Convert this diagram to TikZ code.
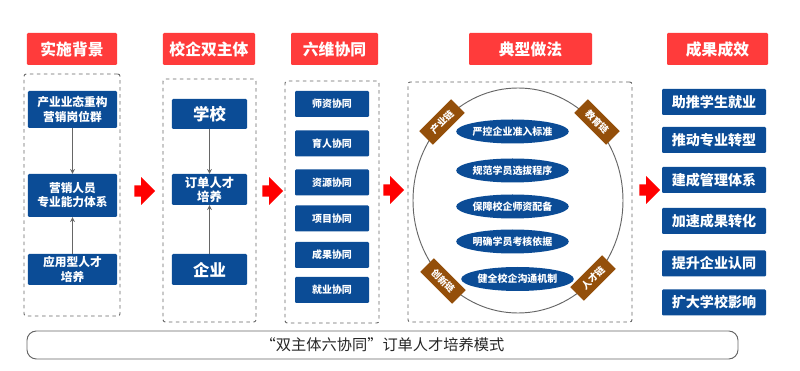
\documentclass[tikz,border=0pt]{standalone}
\usepackage{fontspec}
\setmainfont{Noto Sans CJK SC}
\usepackage{tikz}
\usetikzlibrary{shapes, arrows, positioning}

\definecolor{titlered}{HTML}{FF3B3B}
\definecolor{boxblue}{HTML}{0B4C96}
\definecolor{chainbrown}{HTML}{944F0A}
\definecolor{linegray}{HTML}{666666}

\begin{document}
\begin{tikzpicture}[
        x=0.03cm, y=-0.03cm,
        title/.style={rectangle, fill=titlered, text=white, rounded corners=1pt, minimum height=0.96cm, font=\bfseries\fontsize{13.5}{14}\selectfont},
        frame/.style={rectangle, draw=linegray, dashed, thick, rounded corners=2pt},
        block/.style={rectangle, fill=boxblue, text=white, rounded corners=1pt, align=center, inner sep=1pt, font=\bfseries\fontsize{10}{12}\selectfont},
        bigblock/.style={block, font=\bfseries\fontsize{14}{16}\selectfont},
        smallblock/.style={block, minimum width=2.22cm, minimum height=0.78cm, font=\bfseries\fontsize{8.5}{10}\selectfont},
        result/.style={block, minimum width=3.12cm, minimum height=0.78cm, font=\bfseries\fontsize{12}{14}\selectfont},
        method/.style={ellipse, fill=boxblue, text=white, inner sep=0pt, minimum width=3.27cm, minimum height=0.72cm, font=\bfseries\fontsize{8.5}{10}\selectfont},
        chain/.style={rectangle, fill=chainbrown, text=white, inner sep=0pt, minimum width=1.35cm, minimum height=0.58cm, font=\bfseries\fontsize{8}{9}\selectfont},
        redarrow/.style={single arrow, fill=red, draw=none, inner sep=0.16cm, minimum height=0.62cm, minimum width=0.74cm},
        arrow/.style={thick, draw=linegray, ->, >=stealth}
    ]
    \useasboundingbox (0,0) rectangle (800,371);

    % Titles
    \node [title, minimum width=2.7cm] (t1) at (72,49) {实施背景};
    \node [title, minimum width=2.76cm] (t2) at (209,49) {校企双主体};
    \node [title, minimum width=2.61cm] (t3) at (334.5,49) {六维协同};
    \node [title, minimum width=3.69cm] (t4) at (530.5,49) {典型做法};
    \node [title, minimum width=3.03cm] (t5) at (717.5,49) {成果成效};

    % Dashed frames
    \node [frame, minimum width=2.88cm, minimum height=7.26cm] (f1) at (72,195) {};
    \node [frame, minimum width=2.79cm, minimum height=7.29cm] (f2) at (209.5,200.5) {};
    \node [frame, minimum width=2.82cm, minimum height=7.26cm] (f3) at (332,202) {};
    \node [frame, minimum width=6.72cm, minimum height=7.2cm] (f4) at (520,202) {};

    % Column 1: background
    \node [block, minimum width=2.67cm, minimum height=1.11cm] (industry) at (72.5,109.5) {产业业态重构\\营销岗位群};
    \node [block, minimum width=2.67cm, minimum height=1.29cm] (ability) at (72.5,195.5) {营销人员\\专业能力体系};
    \node [block, minimum width=2.67cm, minimum height=0.93cm] (talent) at (72.5,269.5) {应用型人才\\培养};
    \draw [arrow] (industry) -- (ability);
    \draw [arrow] (talent) -- (ability);

    % Column 2: two subjects
    \node [bigblock, minimum width=2.25cm, minimum height=0.9cm] (school) at (209.5,114) {学校};
    \node [block, minimum width=2.25cm, minimum height=0.93cm, font=\bfseries\fontsize{10.5}{12}\selectfont] (order) at (209.5,189.5) {订单人才\\培养};
    \node [bigblock, minimum width=2.25cm, minimum height=0.93cm] (firm) at (209.5,269.5) {企业};
    \draw [arrow] (school) -- (order);
    \draw [arrow] (firm) -- (order);

    % Column 3: six synergies
    \node [smallblock] (s1) at (332,104) {师资协同};
    \node [smallblock] (s2) at (332,143.5) {育人协同};
    \node [smallblock] (s3) at (332,182.5) {资源协同};
    \node [smallblock] (s4) at (332,218.5) {项目协同};
    \node [smallblock] (s5) at (332,255) {成果协同};
    \node [smallblock] (s6) at (332,290) {就业协同};

    % Column 4: typical practice
    \node [draw=linegray, thick, ellipse, minimum width=6.3cm, minimum height=6.75cm] (ring) at (518,200.5) {};
    \node [method] (m1) at (512.5,131.5) {严控企业准入标准};
    \node [method] (m2) at (512.5,170.5) {规范学员选拔程序};
    \node [method] (m3) at (512.5,206.5) {保障校企师资配备};
    \node [method] (m4) at (512.5,241.5) {明确学员考核依据};
    \node [method] (m5) at (517.5,279) {健全校企沟通机制};
    \node [chain, rotate=45] (c1) at (442,122) {产业链};
    \node [chain, rotate=-45] (c2) at (597,122) {教育链};
    \node [chain, rotate=-45] (c3) at (443,281) {创新链};
    \node [chain, rotate=45] (c4) at (593,278) {人才链};

    % Column 5: results
    \node [result] (r1) at (714,102) {助推学生就业};
    \node [result] (r2) at (714,140) {推动专业转型};
    \node [result] (r3) at (714,180) {建成管理体系};
    \node [result] (r4) at (714,221) {加速成果转化};
    \node [result] (r5) at (714,263.5) {提升企业认同};
    \node [result] (r6) at (714,302.5) {扩大学校影响};

    % Red arrows
    \node [redarrow] (a1) at (142,191) {};
    \node [redarrow] (a2) at (270,191) {};
    \node [redarrow] (a3) at (391,190) {};
    \node [redarrow] (a4) at (647,190) {};

    % Mode bar
    \node [rectangle, draw=linegray, thick, rounded corners=8pt, minimum width=21.33cm, minimum height=0.84cm, text=black!85, font=\fontsize{13}{14}\selectfont] (mode) at (382.5,345) {“双主体六协同”订单人才培养模式};

\end{tikzpicture}
\end{document}
